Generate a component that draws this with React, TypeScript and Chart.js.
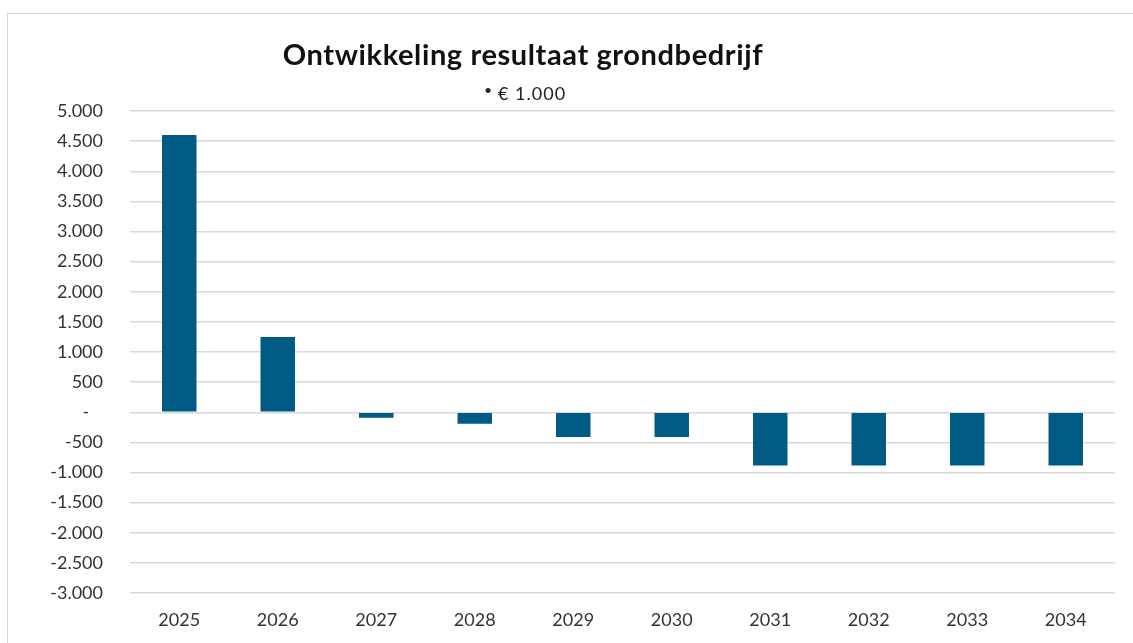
import React, { useEffect, useRef } from "react";
import { Chart, registerables } from "chart.js";

Chart.register(...registerables);

const categories = ["2025", "2026", "2027", "2028", "2029", "2030", "2031", "2032", "2033", "2034"];
const resultValues = [4600, 1250, -90, -190, -410, -410, -885, -885, -885, -885];
const yMin = -3000;
const yMax = 5000;
const yStep = 500;
const titleText = "Ontwikkeling resultaat grondbedrijf";
const subtitleText = "€ 1.000";

const BAR_COLOR = "#005b84";
const GRID_COLOR = "#d9d9d9";
const TEXT_COLOR = "#333333";

function formatTick(v: number): string {
  if (v === 0) return "-   ";
  const abs = Math.abs(v);
  const s = abs.toString().replace(/\B(?=(\d{3})+(?!\d))/g, ".");
  return (v < 0 ? "-" : "") + s;
}

export default function App() {
  const canvasRef = useRef<HTMLCanvasElement | null>(null);

  useEffect(() => {
    if (!canvasRef.current) return;
    const chart = new Chart(canvasRef.current, {
      type: "bar",
      data: {
        labels: categories,
        datasets: [
          {
            label: "Resultaat",
            data: resultValues,
            backgroundColor: BAR_COLOR,
            borderWidth: 0,
            barPercentage: 0.35,
            categoryPercentage: 1,
          },
        ],
      },
      options: {
        animation: false,
        responsive: false,
        maintainAspectRatio: false,
        layout: { padding: { top: 111, left: 0, right: 18, bottom: 0 } },
        plugins: {
          legend: { display: false },
          title: { display: false },
          tooltip: { enabled: false },
        },
        scales: {
          x: {
            grid: { display: false, drawTicks: false },
            border: { display: false },
            ticks: {
              color: TEXT_COLOR,
              font: { family: "Lato", size: 18 },
              padding: 16,
              maxRotation: 0,
              autoSkip: false,
            },
            afterFit: (s: any) => {
              s.height = 50;
            },
          },
          y: {
            min: yMin,
            max: yMax,
            grid: { color: GRID_COLOR, lineWidth: 1.5, drawTicks: false },
            border: { display: false },
            ticks: {
              stepSize: yStep,
              autoSkip: false,
              color: TEXT_COLOR,
              font: { family: "Lato", size: 18 },
              padding: 27,
              callback: (v: any) => formatTick(Number(v)),
            },
            afterFit: (s: any) => {
              s.width = 130;
            },
          },
        },
      },
    });
    return () => chart.destroy();
  }, []);

  return (
    <div
      style={{
        position: "absolute",
        left: 0,
        top: 0,
        width: 1133,
        height: 643,
        background: "#ffffff",
        overflow: "hidden",
      }}
    >
      <div
        style={{
          position: "absolute",
          left: 7,
          top: 13,
          width: 1200,
          height: 700,
          borderLeft: "1.5px solid #d9d9d9",
          borderTop: "1.5px solid #d9d9d9",
        }}
      />
      <canvas
        ref={canvasRef}
        width={1133}
        height={643}
        style={{ position: "absolute", left: 0, top: 0, width: 1133, height: 643 }}
      />
      <div
        style={{
          position: "absolute",
          left: 0,
          top: 37,
          width: 1046,
          textAlign: "center",
          fontFamily: "Lato, sans-serif",
          fontWeight: 700,
          fontSize: 29,
          letterSpacing: "0.6px",
          lineHeight: "34px",
          color: "#111",
          whiteSpace: "nowrap",
        }}
      >
        {titleText}
      </div>
      <div
        style={{
          position: "absolute",
          left: 2,
          top: 82,
          width: 1046,
          textAlign: "center",
          fontFamily: "Lato, sans-serif",
          fontSize: 18,
          letterSpacing: "1px",
          lineHeight: "22px",
          color: "#222",
          whiteSpace: "nowrap",
        }}
      >
        <span style={{ fontSize: 14, position: "relative", top: -5, marginRight: 5 }}>•</span>
        {subtitleText}
      </div>
    </div>
  );
}
